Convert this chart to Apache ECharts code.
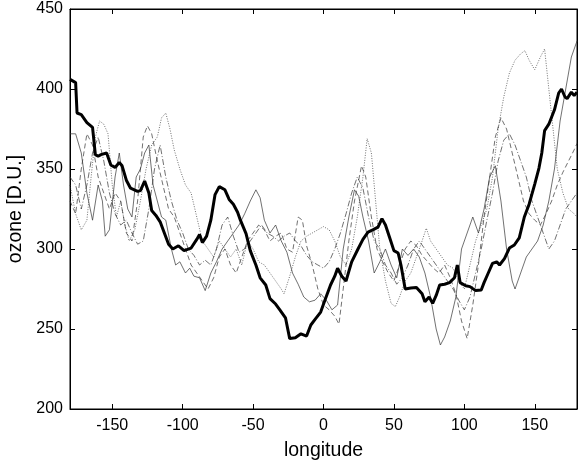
<!DOCTYPE html>
<html>
<head>
<meta charset="utf-8">
<script src="https://cdn.jsdelivr.net/npm/echarts@6/dist/echarts.min.js"></script>
<style>html,body{margin:0;padding:0;background:#fff}#c{width:581px;height:461px}</style>
</head>
<body>
<div id="c"></div>
<script>
// Tick labels
const xTicks = [-150, -100, -50, 0, 50, 100, 150];
const yTicks = [200, 250, 300, 350, 400, 450];

// Thick solid line
const thickLon = [-180,-176,-175,-172,-168,-164,-162,-160,-158,-154,-151,-148,-145,-143,-140,-137,-132,-130,-127,-124,-122,-119,-116,-113,-110,-107,-103,-99,-94,-90,-88,-86,-83,-80,-77,-74,-70,-67,-64,-61,-59,-55,-52,-48,-45,-41,-38,-34,-31,-27,-24,-20,-16,-12,-9,-6,-2,1,5,8,10,13,16,18,20,24.5,28,31.6,35,38.7,41.5,44,47,50,53,55,58,62,66,70,72,75,77.5,80,82.5,86,89.5,93,95,97,101,104,108,112,114,117,120,123,125,128.5,132,135.5,139,142.6,146,150,153,155,157,160,164,167,169,171.5,173,176,178,180];
const thickVal = [406,404,385,384,379,376,359,358,359,360,352.5,351,354,352,343,338,336,336.5,342.5,335,324,321,317,310,303,300,302,299,300.6,306,309,304,308,318,334,339,337,331,328,323,318,309.6,299,290,282,277.5,269,265.6,262,257,244,244.5,247,245.6,252.5,256,260.6,268,277.5,283,288,283,280,286,292,300,306,310.6,312,313.7,319,315,307,299,297.5,290,275,275.6,276,272,267,270,266,271,277.5,278,279,282,290,279,277,276.5,274,274.4,279,285,291,292,290,294,300.6,302.5,307,320,328,340.6,350.6,360,374,378,387,397.5,400,395,394,398,396,398];

// Thin solid line
const solidLon = [-180,-176,-172,-168,-164,-160,-157,-155,-152,-148,-145,-142,-139,-136,-133,-130,-127,-124,-121,-118,-115,-112,-108,-105,-102,-98,-95,-92,-88,-84,-80,-76,-72,-68,-64,-60,-56,-52,-48,-45,-42,-38,-34,-30,-26,-22,-18,-14,-10,-6,-2,2,6,10,14,18,22,25,28,32,36,40,44,48,52,56,60,64,68,72,76,80,83,86,90,94,98,102,106,110,114,118,122,126,130,134,136,140,144,148,152,156,160,164,168,172,176,180];
const solidVal = [372,372,360,335,318,340,330,308,312,345,360,340,325,320,345,350,360,365,340,330,320,318,300,290,292,285,288,283,282,274,285,292,300,305,310,315,322,330,337,332,318,310,315,305,298,285,278,270,267,268,272,268,262,265,300,320,337,333,320,305,285,292,300,290,282,300,296,300,295,285,270,250,240,245,255,270,300,310,320,310,325,345,352,330,300,280,275,285,295,300,305,315,330,350,380,400,420,430];

// Dashed line
const dashLon = [-180,-176,-172,-168,-164,-160,-156,-152,-148,-144,-140,-136,-132,-128,-125,-122,-118,-114,-110,-106,-102,-98,-94,-90,-86,-82,-78,-74,-70,-66,-62,-58,-54,-50,-46,-42,-38,-34,-30,-26,-22,-18,-15,-12,-8,-4,0,4,8,11,14,18,22,27,30,34,38,42,46,50,54,58,62,66,70,74,78,82,86,90,94,98,102,106,110,114,118,122,126,130,134,138,142,146,150,154,158,162,166,170,174,178,180];
const dashVal = [330,322,350,372,365,345,335,325,335,330,310,305,330,370,377,372,355,340,325,320,310,300,290,285,280,275,282,295,300,290,285,295,305,310,315,312,305,308,310,300,298,320,318,302,290,275,265,262,258,253,275,305,330,352,345,320,300,292,285,280,290,300,305,302,296,292,288,285,290,282,272,255,244,265,290,320,345,370,382,375,360,345,330,322,318,315,322,330,340,348,355,362,366];

// Dash-dot line
const dashDotLon = [-180,-176,-172,-168,-164,-160,-156,-152,-148,-144,-140,-136,-132,-128,-124,-120,-116,-112,-108,-104,-100,-96,-92,-88,-84,-80,-76,-72,-68,-64,-60,-56,-52,-48,-44,-40,-36,-32,-28,-24,-20,-16,-12,-8,-4,0,4,8,12,16,20,24,28,32,36,40,44,48,52,56,60,64,68,72,76,80,84,88,92,96,100,104,108,112,116,120,124,128,132,136,140,144,148,152,156,160,164,168,172,176,180];
const dashDotVal = [345,340,325,340,360,370,355,335,322,315,318,310,303,305,325,350,365,345,330,318,310,300,296,290,293,290,300,315,320,308,298,300,305,310,315,310,308,305,308,310,305,302,296,292,290,288,292,300,310,322,335,345,338,320,305,300,290,285,278,282,290,300,305,300,295,290,285,280,275,268,262,270,285,300,318,335,355,368,372,365,355,345,330,320,310,300,305,315,325,330,335];

// Dotted line
const dotLon = [-180,-176,-172,-168,-165,-162,-159,-156,-153,-150,-147,-144,-141,-138,-134,-130,-126,-122,-118,-115,-112,-109,-106,-102,-98,-94,-90,-86,-82,-78,-74,-70,-66,-62,-58,-54,-50,-46,-42,-38,-34,-30,-28,-24,-20,-16,-12,-8,-4,0,4,8,12,16,20,24,28,31,34,37,40,44,48,51,54,58,62,66,70,73,76,80,84,88,92,96,100,104,108,112,116,120,124,128,132,136,140,143,146,150,154,157,160,163,166,170,174,178,180];
const dotVal = [340,322,312,318,345,370,380,378,372,340,320,330,315,305,312,330,350,365,370,382,385,375,362,350,340,335,320,305,300,295,305,300,295,300,290,305,300,292,290,285,280,275,272,283,295,305,308,310,312,314,312,305,295,290,300,320,345,369,360,330,300,280,266,264,270,280,285,295,305,313,305,300,295,290,288,280,275,290,305,315,325,345,375,395,410,418,422,424,418,412,420,425,400,375,350,335,325,322,320];

function pairs(xs, ys) { return xs.map((x, i) => [x, ys[i]]); }

const thinColor = '#333';
const chart = echarts.init(document.getElementById('c'), null, { renderer: 'canvas' });
const font = 'Liberation Sans, Arial, sans-serif';
const thinSeries = (name, xs, ys, type) => ({
  name, type: 'line', data: pairs(xs, ys), showSymbol: false, symbol: 'none',
  lineStyle: { color: thinColor, width: 0.7, type: type }, z: 2
});
const axisLine = { show: true, onZero: false, lineStyle: { color: '#000', width: 1 } };
chart.setOption({
  animation: false,
  backgroundColor: '#fff',
  grid: { left: 70, right: 4, top: 9, bottom: 52, outerBoundsMode: 'none', containLabel: false, show: true, borderColor: '#000', borderWidth: 1 },
  xAxis: [
    {
      type: 'value', min: -180, max: 180, position: 'bottom',
      name: 'longitude', nameLocation: 'middle', nameGap: 32,
      nameTextStyle: { color: '#000', fontSize: 19.5, fontFamily: font },
      axisLine: axisLine,
      axisTick: { show: true, inside: true, length: 5, lineStyle: { color: '#000' }, customValues: xTicks },
      axisLabel: { color: '#000', fontSize: 16, fontFamily: font, margin: 9, customValues: xTicks },
      splitLine: { show: false }
    },
    {
      type: 'value', min: -180, max: 180, position: 'top',
      axisLine: axisLine,
      axisTick: { show: true, inside: true, length: 5, lineStyle: { color: '#000' }, customValues: xTicks },
      axisLabel: { show: false },
      splitLine: { show: false }
    }
  ],
  yAxis: [
    {
      type: 'value', min: 200, max: 450, interval: 50, position: 'left',
      name: 'ozone [D.U.]', nameLocation: 'middle', nameGap: 28, nameRotate: 90,
      nameTextStyle: { color: '#000', fontSize: 19.5, fontFamily: font },
      axisLine: axisLine,
      axisTick: { show: true, inside: true, length: 5, lineStyle: { color: '#000' } },
      axisLabel: { color: '#000', fontSize: 16, fontFamily: font, margin: 7 },
      splitLine: { show: false }
    },
    {
      type: 'value', min: 200, max: 450, interval: 50, position: 'right',
      axisLine: axisLine,
      axisTick: { show: true, inside: true, length: 5, lineStyle: { color: '#000' } },
      axisLabel: { show: false },
      splitLine: { show: false }
    }
  ],
  series: [
    thinSeries('solid', solidLon, solidVal, 'solid'),
    thinSeries('dashed', dashLon, dashVal, [5, 3]),
    thinSeries('dashdot', dashDotLon, dashDotVal, [6, 2, 1, 2]),
    thinSeries('dotted', dotLon, dotVal, [1, 1.5]),
    {
      name: 'thick', type: 'line', data: pairs(thickLon, thickVal), showSymbol: false, symbol: 'none',
      lineStyle: { color: '#000', width: 3 }, z: 3
    }
  ]
});
</script>
</body>
</html>
